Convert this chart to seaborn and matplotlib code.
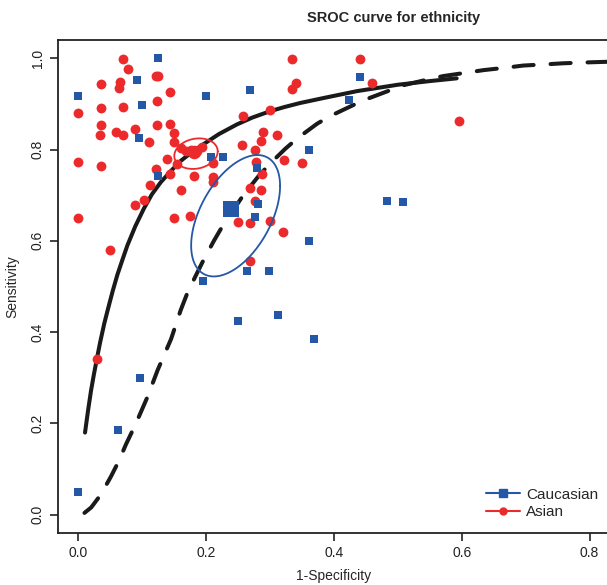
import numpy as np
import pandas as pd
import seaborn as sns
import matplotlib.pyplot as plt
from matplotlib.lines import Line2D

# study points (1-specificity, sensitivity)
cauc_fpr = [0.125, 0.091, 0.0, 0.100, 0.094, 0.200, 0.269, 0.208, 0.226, 0.280,
            0.125, 0.281, 0.277, 0.264, 0.298, 0.195, 0.2505, 0.313, 0.369, 0.4406,
            0.424, 0.361, 0.483, 0.508, 0.361, 0.097, 0.0625, 0.0]
cauc_sens = [1.0, 0.952, 0.918, 0.898, 0.826, 0.918, 0.930, 0.784, 0.784, 0.760,
             0.741, 0.680, 0.653, 0.535, 0.535, 0.512, 0.424, 0.437, 0.386, 0.959,
             0.908, 0.798, 0.688, 0.686, 0.599, 0.300, 0.186, 0.049]

asian_fpr = [0.069, 0.0775, 0.121, 0.124, 0.035, 0.0645, 0.063, 0.143, 0.123, 0.0,
             0.035, 0.069, 0.035, 0.034, 0.059, 0.069, 0.089, 0.111, 0.123, 0.143,
             0.149, 0.150, 0.0, 0.036, 0.139, 0.121, 0.160, 0.168, 0.176, 0.186,
             0.194, 0.154, 0.144, 0.181, 0.210, 0.210, 0.211, 0.1125, 0.160, 0.1025,
             0.088, 0.0, 0.150, 0.175, 0.050, 0.257, 0.300, 0.289, 0.2865, 0.310,
             0.256, 0.2766, 0.322, 0.350, 0.2775, 0.288, 0.286, 0.269, 0.2766, 0.2505,
             0.268, 0.300, 0.320, 0.268, 0.334, 0.340, 0.334, 0.4406, 0.460, 0.596,
             0.0286]
asian_sens = [0.998, 0.976, 0.961, 0.961, 0.944, 0.948, 0.935, 0.926, 0.907, 0.881,
              0.891, 0.894, 0.853, 0.832, 0.838, 0.832, 0.844, 0.817, 0.853, 0.857,
              0.837, 0.817, 0.773, 0.763, 0.780, 0.757, 0.804, 0.797, 0.800, 0.797,
              0.806, 0.768, 0.747, 0.741, 0.739, 0.728, 0.771, 0.723, 0.712, 0.689,
              0.679, 0.649, 0.649, 0.654, 0.581, 0.873, 0.886, 0.839, 0.819, 0.832,
              0.810, 0.798, 0.777, 0.771, 0.773, 0.747, 0.712, 0.716, 0.688, 0.642,
              0.640, 0.643, 0.619, 0.556, 0.998, 0.945, 0.932, 0.998, 0.945, 0.862,
              0.341]

# summary estimates
cauc_summary = (0.2395, 0.670)
asian_summary = (0.181, 0.795)

# confidence regions: centre, sd in x, sd in y, correlation
cauc_region = (0.246, 0.655, 0.0696, 0.133, 0.49)
asian_region = (0.184, 0.791, 0.034, 0.0335, 0.15)

# SROC curves
asian_curve_x = [0.0103, 0.0150, 0.0197, 0.0240, 0.0286, 0.0340, 0.0406, 0.0470, 0.0536,
                 0.0610, 0.0692, 0.0766, 0.0890, 0.1025, 0.1150, 0.1286, 0.1440, 0.160,
                 0.178, 0.196, 0.220, 0.248, 0.272, 0.300, 0.322, 0.347, 0.384, 0.436,
                 0.500, 0.550, 0.592]
asian_curve_y = [0.180, 0.228, 0.272, 0.306, 0.340, 0.378, 0.420, 0.455, 0.490,
                 0.526, 0.560, 0.590, 0.632, 0.671, 0.702, 0.728, 0.752, 0.775,
                 0.795, 0.812, 0.834, 0.855, 0.870, 0.884, 0.893, 0.902, 0.913, 0.928,
                 0.942, 0.950, 0.956]

cauc_curve_x = [0.0094, 0.020, 0.035, 0.051, 0.064, 0.074, 0.090, 0.108, 0.124,
                0.145, 0.160, 0.170, 0.183, 0.194, 0.212, 0.222, 0.235, 0.258,
                0.282, 0.299, 0.324, 0.343, 0.374, 0.395, 0.431, 0.452, 0.488,
                0.509, 0.548, 0.571, 0.610, 0.634, 0.673, 0.696, 0.735, 0.759,
                0.798, 0.821, 0.850]
cauc_curve_y = [0.004, 0.016, 0.044, 0.084, 0.120, 0.153, 0.200, 0.258, 0.317,
                0.385, 0.448, 0.484, 0.522, 0.553, 0.600, 0.624, 0.652, 0.700,
                0.742, 0.768, 0.802, 0.825, 0.857, 0.874, 0.898, 0.911, 0.930,
                0.941, 0.954, 0.961, 0.969, 0.974, 0.980, 0.984, 0.987, 0.989,
                0.991, 0.992, 0.993]

blue = '#2457A5'
red = '#ED2A2B'

sns.set_theme(style="ticks")
plt.rcParams['font.family'] = ['Liberation Sans', 'DejaVu Sans']

fig = plt.figure(figsize=(6.07, 5.85), dpi=100)
ax = fig.add_axes([58 / 607, 52 / 585, 552 / 607, 493 / 585])

# SROC curves
sns.lineplot(x=asian_curve_x, y=asian_curve_y, sort=False, estimator=None,
             color='#1a1a1a', lw=2.9, ax=ax)
sns.lineplot(x=cauc_curve_x, y=cauc_curve_y, sort=False, estimator=None,
             color='#1a1a1a', lw=2.9, ax=ax, dashes=False)
ax.lines[-1].set_dashes([5.0, 4.2])
ax.lines[-1].set_dash_capstyle('round')
ax.lines[0].set_solid_capstyle('round')

# study points
pts = pd.concat([
    pd.DataFrame({'fpr': cauc_fpr, 'sens': cauc_sens, 'group': 'Caucasian'}),
    pd.DataFrame({'fpr': asian_fpr, 'sens': asian_sens, 'group': 'Asian'}),
])
sns.scatterplot(data=pts[pts.group == 'Asian'], x='fpr', y='sens', color=red,
                marker='o', s=50, linewidth=0, ax=ax, zorder=3)
sns.scatterplot(data=pts[pts.group == 'Caucasian'], x='fpr', y='sens', color=blue,
                marker='s', s=36, linewidth=0, ax=ax, zorder=3)

# confidence regions
t = np.linspace(0, 2 * np.pi, 200)
for (cx, cy, sx, sy, r), col in [(cauc_region, blue), (asian_region, red)]:
    ex = cx + sx * np.cos(t)
    ey = cy + sy * (r * np.cos(t) + np.sqrt(1 - r ** 2) * np.sin(t))
    ax.plot(ex, ey, color=col, lw=1.3, zorder=4)

ax.scatter([cauc_summary[0]], [cauc_summary[1]], marker='s', s=130, color=blue,
           linewidth=0, zorder=5)
ax.scatter([asian_summary[0]], [asian_summary[1]], marker='o', s=95, color=red,
           linewidth=0, zorder=5)

ax.set_xlim(-0.032, 0.832)
ax.set_ylim(-0.04, 1.04)
ax.set_xticks([0, 0.2, 0.4, 0.6, 0.8])
ax.set_yticks([0, 0.2, 0.4, 0.6, 0.8, 1.0])
ax.set_xticklabels(['0.0', '0.2', '0.4', '0.6', '0.8'])
ax.set_yticklabels(['0.0', '0.2', '0.4', '0.6', '0.8', '1.0'], rotation=90, va='center')
ax.tick_params(direction='out', length=6, width=1.2, labelsize=10, colors='#222222')
for sp in ax.spines.values():
    sp.set_linewidth(1.3)
    sp.set_color('#222222')

ax.set_xlabel('1-Specificity', fontsize=10, labelpad=6)
ax.set_ylabel('Sensitivity', fontsize=10, labelpad=8)
fig.text(394 / 607, 1 - 18 / 585, 'SROC curve for ethnicity', ha='center', va='center',
         fontsize=10.5, fontweight='bold')

handles = [Line2D([], [], color=blue, marker='s', markersize=6, lw=1.5),
           Line2D([], [], color=red, marker='o', markersize=5, lw=1.5)]
ax.legend(handles, ['Caucasian', 'Asian'], frameon=False, fontsize=11,
          loc='lower right', bbox_to_anchor=(604 / 607, 60 / 585),
          bbox_transform=fig.transFigure, handlelength=2.2, handletextpad=0.4,
          labelspacing=0.2, borderaxespad=0)

fig.savefig('out.png', dpi=100)
